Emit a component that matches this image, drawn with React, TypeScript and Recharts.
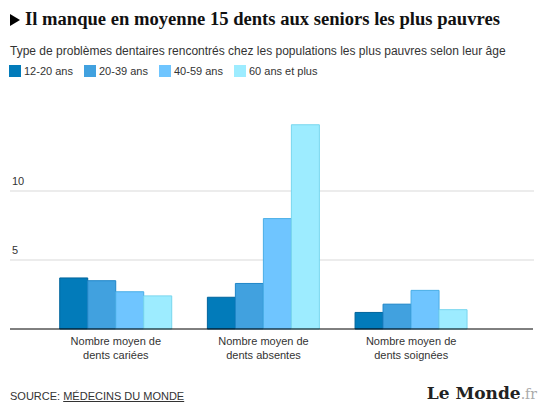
import React from 'react';
import { BarChart, Bar, XAxis, YAxis, CartesianGrid } from 'recharts';

const categories = ['Nombre moyen de|dents cariées', 'Nombre moyen de|dents absentes', 'Nombre moyen de|dents soignées'];
const ageGroups = ['12-20 ans', '20-39 ans', '40-59 ans', '60 ans et plus'];
const age12to20 = [3.7, 2.3, 1.2];
const age20to39 = [3.5, 3.3, 1.8];
const age40to59 = [2.7, 8.0, 2.8];
const age60plus = [2.4, 14.8, 1.4];
const yTicks = [0, 5, 10];

const fills = ['#027bba', '#41a1df', '#6fc5ff', '#9decff'];
const strokes = ['#00649c', '#1f86c8', '#4aaee6', '#78d6ee'];
const keys = ['a', 'b', 'c', 'd'];

const data = categories.map((name, i) => ({
  name,
  a: age12to20[i],
  b: age20to39[i],
  c: age40to59[i],
  d: age60plus[i],
}));

const sans = '"Liberation Sans", Arial, sans-serif';

function CategoryTick({ x, y, payload }: any) {
  const lines = String(payload.value).split('|');
  return (
    <text x={x} y={y} textAnchor="middle" fill="#333" fontSize={11} fontFamily={sans}>
      {lines.map((l, i) => (
        <tspan key={i} x={x} dy={i === 0 ? 8 : 14}>{l}</tspan>
      ))}
    </text>
  );
}

function ValueTick({ y, payload }: any) {
  if (payload.value === 0) return null;
  return (
    <text x={12} y={y - 6} fill="#333" fontSize={11} fontFamily={sans}>{payload.value}</text>
  );
}

function GridLine(p: any) {
  if (!(p.y1 > 125 && p.y1 < 325)) return <g />;
  return <line x1={p.x1} x2={p.x2 + 1} y1={p.y1} y2={p.y2} stroke="#d9d9d9" strokeWidth={1} />;
}

export default function App() {
  return (
    <div style={{ position: 'relative', width: 553, height: 417, background: '#fff', fontFamily: sans, color: '#333' }}>
      <style>{'body{margin:0}'}</style>
      <div style={{ position: 'absolute', left: 0, top: 0 }}>
        <BarChart width={553} height={370} data={data} barCategoryGap="12%" barGap={0}
          margin={{ top: 122, right: 20, left: 9, bottom: 1 }}>
          <CartesianGrid vertical={false} horizontal={GridLine} />
          <XAxis dataKey="name" height={40} tick={<CategoryTick />} tickLine={false} axisLine={{ stroke: '#000' }}
            interval={0} padding={{ left: 32, right: 48 }} />
          <YAxis width={1} domain={[0, 15]} ticks={yTicks} tick={<ValueTick />} axisLine={false} tickLine={false} />
          {keys.map((k, i) => (
            <Bar key={k} dataKey={k} name={ageGroups[i]} fill={fills[i]} stroke={strokes[i]} strokeWidth={1} isAnimationActive={false} />
          ))}
        </BarChart>
      </div>
      <div style={{ position: 'absolute', left: 10, top: 14, width: 0, height: 0, borderTop: '6px solid transparent', borderBottom: '6px solid transparent', borderLeft: '10px solid #000' }} />
      <div style={{ position: 'absolute', left: 25, top: 8, fontFamily: '"Liberation Serif", serif', fontWeight: 'bold', fontSize: 18.6, color: '#111', whiteSpace: 'nowrap' }}>
        Il manque en moyenne 15 dents aux seniors les plus pauvres
      </div>
      <div style={{ position: 'absolute', left: 10, top: 44, fontSize: 12, whiteSpace: 'nowrap' }}>
        Type de problèmes dentaires rencontrés chez les populations les plus pauvres selon leur âge
      </div>
      <div style={{ position: 'absolute', left: 9, top: 65, display: 'flex', fontSize: 11 }}>
        {ageGroups.map((g, i) => (
          <div key={g} style={{ display: 'flex', alignItems: 'center', width: i < 3 ? 75 : 120, whiteSpace: 'nowrap' }}>
            <span style={{ display: 'inline-block', width: 12, height: 12, background: fills[i], marginRight: 3 }} />
            <span>{g}</span>
          </div>
        ))}
      </div>
      <div style={{ position: 'absolute', left: 10, top: 390, fontSize: 11 }}>
        SOURCE: <span style={{ textDecoration: 'underline', color: '#333' }}>MÉDECINS DU MONDE</span>
      </div>
      <div style={{ position: 'absolute', right: 16, top: 383, fontFamily: '"DejaVu Serif", serif', fontWeight: 'bold', fontSize: 17, color: '#222', whiteSpace: 'nowrap' }}>
        Le Monde<span style={{ color: '#aaa', fontWeight: 'normal', fontSize: 14 }}>.fr</span>
      </div>
    </div>
  );
}
